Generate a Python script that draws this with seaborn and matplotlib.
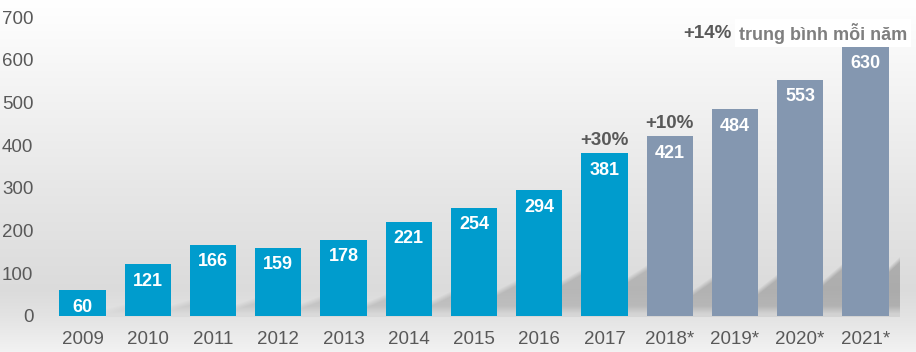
import numpy as np
import pandas as pd
import seaborn as sns
import matplotlib
import matplotlib.pyplot as plt

matplotlib.use("Agg")

# Data
years = ["2009", "2010", "2011", "2012", "2013", "2014", "2015", "2016", "2017",
         "2018*", "2019*", "2020*", "2021*"]
values = [60, 121, 166, 159, 178, 221, 254, 294, 381, 421, 484, 553, 630]
kinds = ["actual"] * 9 + ["forecast"] * 4
growth_labels = {"2017": "+30%", "2018*": "+10%"}
avg_label = "+14%"
avg_text = "trung bình mỗi năm"

BLUE = "#009ccd"
GREY_BLUE = "#8497b0"
TEXT = "#595959"
BAR_WIDTH = 0.71

df = pd.DataFrame({"year": years, "value": values, "kind": kinds})

sns.set_theme(style="white")
plt.rcParams["font.family"] = ["Liberation Sans", "DejaVu Sans"]

W, H = 916, 352
fig = plt.figure(figsize=(W / 100, H / 100), dpi=100)

ax = fig.add_axes([50 / W, 36 / H, 848 / W, 299 / H])
ax.patch.set_alpha(0)

sns.barplot(data=df, x="year", y="value", hue="kind", dodge=False, width=BAR_WIDTH,
            palette={"actual": BLUE, "forecast": GREY_BLUE}, saturation=1,
            linewidth=0, edgecolor="none", legend=False, ax=ax)

ax.set_ylim(0, 700)
ax.set_xlim(-0.5, len(years) - 0.5)
ax.set_yticks(range(0, 701, 100))
ax.set_xlabel("")
ax.set_ylabel("")
sns.despine(ax=ax, left=True, bottom=True)
ax.tick_params(axis="both", length=0, labelsize=13.5, labelcolor=TEXT)
ax.tick_params(axis="y", pad=12)
ax.tick_params(axis="x", pad=11)

# Background: soft vertical grey gradient plus the slanted shadows behind the bars
bg_ax = fig.add_axes([0, 0, 1, 1], zorder=-1)
yy, xx = np.mgrid[0:H, 0:W].astype(float)
yy += 0.5
xx += 0.5
shade = np.interp(yy, [0, 40, 200, 290, 316, 352], [1.0, 0.98, 0.90, 0.86, 0.89, 0.95])

right_px = np.array([ax.transData.transform((i + BAR_WIDTH / 2, 0))[0] for i in range(len(years))])
gap_px = (ax.transData.transform((1 - BAR_WIDTH, 0))[0] - ax.transData.transform((0, 0))[0])
base_px = H - ax.transData.transform((0, 0))[1]
start = np.interp(right_px, [100, 171, 366, 432, 497, 563, 628, 693, 758, 823, 889],
                  [309, 305, 302, 300, 290, 280, 277, 290, 289, 280, 267])
slope = np.interp(right_px, [100, 400, 600, 900], [0.25, 0.45, 0.6, 0.95])
strength = np.interp(right_px, [100, 400, 900], [0.07, 0.12, 0.19])

idx = np.searchsorted(right_px, xx, side="right") - 1
valid = (idx >= 0) & (xx < 900)
k = np.clip(idx, 0, None)
top = start[k] - np.clip(xx - right_px[k], 0, gap_px) * slope[k]
band = np.clip((yy - top) / 6, 0, 1) * np.clip((base_px + 2 - yy) / 12, 0.35, 1)
band *= (yy <= base_px + 1)
shade = shade - np.where(valid, band * strength[k], 0)
bg_ax.imshow(np.dstack([shade] * 3), extent=[0, 1, 0, 1], aspect="auto", origin="upper")
bg_ax.axis("off")

# Value labels inside the bars
for i, v in enumerate(values):
    ax.annotate(str(v), xy=(i, v), xytext=(0, -6), textcoords="offset points",
                ha="center", va="top", color="white", fontsize=13, fontweight="bold")

# Growth annotations
for i, y in enumerate(years):
    if y in growth_labels:
        ax.annotate(growth_labels[y], xy=(i, values[i]), xytext=(0, 3),
                    textcoords="offset points", ha="center", va="bottom",
                    color=TEXT, fontsize=13.5, fontweight="bold")

last = len(years) - 1
t_avg = ax.annotate(avg_text, xy=(last, values[last]), xytext=(30, 10),
                    textcoords="offset points", ha="right", va="center",
                    color="#7f7f7f", fontsize=13, fontweight="bold",
                    bbox=dict(boxstyle="square,pad=0.2", fc="white", ec="none"))
ax.annotate(avg_label, xy=(0, 0.5), xycoords=t_avg, xytext=(-5, 0),
            textcoords="offset points", ha="right", va="center",
            color=TEXT, fontsize=13.5, fontweight="bold")

fig.savefig("out.png", dpi=100)
